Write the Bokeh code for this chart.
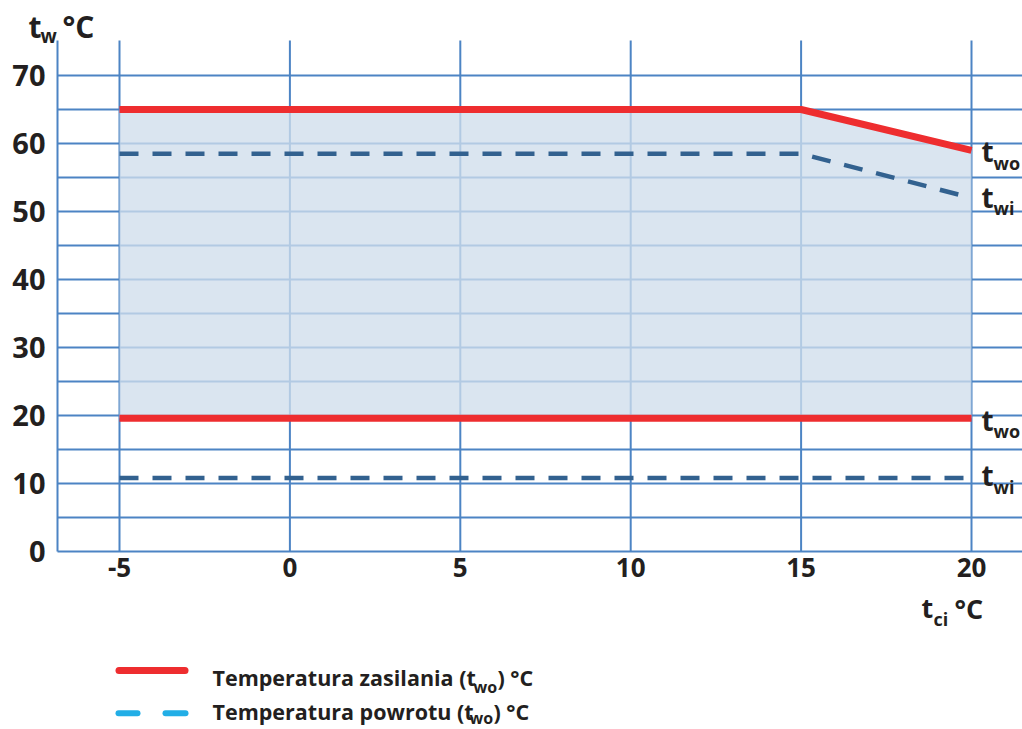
from bokeh.plotting import figure
from bokeh.models import Range1d, FixedTicker
from bokeh.embed import file_html
from bokeh.resources import INLINE
from bokeh.core.properties import value

# ---------------- data ----------------
x_points = [-5, 15, 20]            # outdoor temperature t_ci
supply_max = [65, 65, 59]          # upper supply limit t_wo
return_max = [58.5, 58.5, 52]      # upper return limit t_wi
x_min_line = [-5, 20]
supply_min = [19.6, 19.6]          # lower supply limit
return_min = [10.8, 10.8]          # lower return limit
x_ticks = [-5, 0, 5, 10, 15, 20]
y_ticks = [0, 10, 20, 30, 40, 50, 60, 70]
y_grid = [5, 10, 15, 20, 25, 30, 35, 40, 45, 50, 55, 60, 65, 70]
legend_main = ["Temperatura zasilania (t", "Temperatura powrotu (t"]
legend_sub = ["wo", "wo"]
legend_tail = [") °C", ") °C"]

# ---------------- style ----------------
RED = "#ee2d2f"
DASH = "#32618f"
CYAN = "#22aee6"
GRID = "#4c84c4"
FILL = "#d0deec"
TEXT = "#231f20"
FONT = "Open Sans"

W, H = 1022, 729
# pixel geometry of the plotting area (page pixels)
FL, FR, FT, FB = 57, 1022, 40, 551
SX = (971 - 119) / 25.0
SY = 476 / 70.0
X0 = -5 - 119 / SX
X1 = X0 + W / SX
Y1 = FB / SY
Y0 = -(H - FB) / SY


def dx(px):
    return X0 + px / SX


def dy(py):
    return (FB - py) / SY


p = figure(width=W, height=H, output_backend="svg", toolbar_location=None,
           x_range=Range1d(X0, X1), y_range=Range1d(Y0, Y1), min_border=0)
p.outline_line_color = None
p.background_fill_color = "white"
p.border_fill_color = "white"
p.grid.visible = False

for ax, ticks, size, stand in ((p.xaxis, x_ticks, "26px", 6), (p.yaxis, y_ticks, "29px", 12)):
    ax.ticker = FixedTicker(ticks=ticks)
    ax.axis_line_color = GRID
    ax.axis_line_width = 2
    ax.major_tick_line_color = None
    ax.minor_tick_line_color = None
    ax.major_tick_out = 0
    ax.major_tick_in = 0
    ax.minor_tick_out = 0
    ax.minor_tick_in = 0
    ax.major_label_text_font = FONT
    ax.major_label_text_font_style = "bold"
    ax.major_label_text_font_size = size
    ax.major_label_text_color = TEXT
    ax.major_label_standoff = stand

p.xaxis.fixed_location = 0
p.xaxis.bounds = (dx(FL), dx(FR))
p.xaxis.major_label_overrides = {-5: "-5"}
p.yaxis.fixed_location = dx(FL)
p.yaxis.bounds = (0, dy(FT))

# grid lines (limited to the plotting area)
p.segment(x0=x_ticks, y0=[0] * len(x_ticks), x1=x_ticks, y1=[dy(FT)] * len(x_ticks),
          line_color=GRID, line_width=2)
p.segment(x0=[dx(FL)] * len(y_grid), y0=y_grid, x1=[dx(FR)] * len(y_grid), y1=y_grid,
          line_color=GRID, line_width=2)

# admissible area
p.varea(x=x_points, y1=[supply_min[0]] * len(x_points), y2=supply_max,
        fill_color=FILL, fill_alpha=0.78)

p.line(x_points, supply_max, line_color=RED, line_width=7)
p.line(x_min_line, supply_min, line_color=RED, line_width=7)
p.line(x_points, return_max, line_color=DASH, line_width=4.5, line_dash="19 14")
p.line(x_min_line, return_min, line_color=DASH, line_width=4.5, line_dash="19 14")


def lab(text, px, py, size):
    # py = wanted baseline in page pixels; small correction for rendered baseline
    fs = float(size.replace("px", ""))
    p.text(x=[dx(px)], y=[dy(py - 0.37 * fs)], text=[text], text_font=value(FONT),
           text_font_style="bold", text_font_size=size, text_color=TEXT,
           text_align="left", text_baseline="alphabetic")


# axis titles
lab("t", 28, 37, "30px")
lab("w", 40, 43, "19px")
lab("°C", 62, 37, "30px")
lab("t", 921, 617, "27px")
lab("ci", 933, 625, "18px")
lab("°C", 954, 618, "27px")

# curve labels on the right
for base, sub, sub_base in ((161, "wo", 169), (207, "wi", 214),
                            (430, "wo", 437), (485, "wi", 493)):
    lab("t", 981, base, "28px")
    lab(sub, 993, sub_base, "18px")

# ---------------- legend ----------------
p.line([dx(118.5), dx(184.5)], [dy(670), dy(670)], line_color=RED, line_width=7,
       line_cap="round")
p.segment(x0=[dx(118), dx(165)], y0=[dy(712.7)] * 2, x1=[dx(137), dx(185)],
          y1=[dy(712.7)] * 2, line_color=CYAN, line_width=6, line_cap="round")

rows = [(685, 692, 473, 497), (719, 723, 469, 493)]
for i, (base, sbase, sx, tx) in enumerate(rows):
    lab(legend_main[i], 212, base, "21.5px")
    lab(legend_sub[i], sx, sbase, "16px")
    lab(legend_tail[i], tx, base, "21.5px")

open("out.html", "w").write(file_html(p, INLINE))
